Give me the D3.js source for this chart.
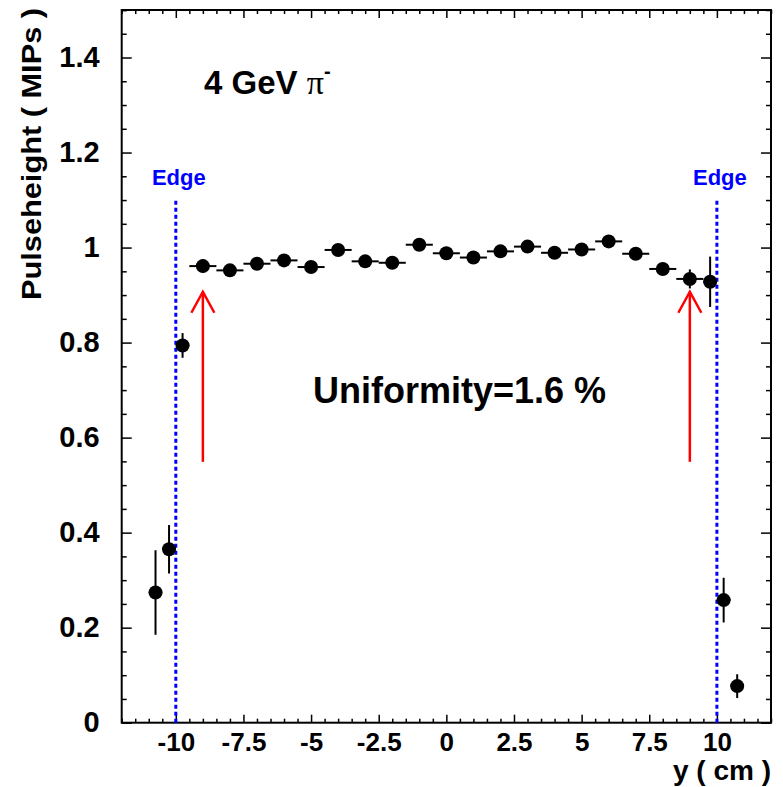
<!DOCTYPE html>
<html>
<head>
<meta charset="utf-8">
<script src="https://cdn.jsdelivr.net/npm/d3@7"></script>
<style>
  body { margin: 0; background: #fff; }
  text { font-family: "Liberation Sans", Arial, sans-serif; font-weight: bold; }
</style>
</head>
<body>
<svg id="chart" width="783" height="787"></svg>
<script>
// bin centres (cm) and measured pulseheight (MIPs)
const yPos = [-10.75, -10.25, -9.75, -9, -8, -7, -6, -5, -4, -3, -2, -1, 0,
  1, 2, 3, 4, 5, 6, 7, 8, 9, 9.75, 10.25, 10.75];
const pulse = [0.274, 0.365, 0.794, 0.961, 0.952, 0.966, 0.973, 0.959, 0.995, 0.971, 0.968, 1.006, 0.988,
  0.979, 0.992, 1.002, 0.989, 0.996, 1.013, 0.987, 0.955, 0.934, 0.928, 0.258, 0.077];
const pulseErr = [0.089, 0.051, 0.026, 0.014, 0.006, 0.006, 0.006, 0.006, 0.006, 0.006, 0.006, 0.006, 0.006,
  0.006, 0.006, 0.006, 0.006, 0.006, 0.006, 0.006, 0.008, 0.02, 0.053, 0.047, 0.025];
const binHalf = [0.25, 0.25, 0.25, 0.5, 0.5, 0.5, 0.5, 0.5, 0.5, 0.5, 0.5, 0.5, 0.5,
  0.5, 0.5, 0.5, 0.5, 0.5, 0.5, 0.5, 0.5, 0.5, 0.25, 0.25, 0.25];

const xTicks = [-10, -7.5, -5, -2.5, 0, 2.5, 5, 7.5, 10];
const xTickLabels = ["-10", "-7.5", "-5", "-2.5", "0", "2.5", "5", "7.5", "10"];
const yTicks = [0, 0.2, 0.4, 0.6, 0.8, 1, 1.2, 1.4];
const yTickLabels = ["0", "0.2", "0.4", "0.6", "0.8", "1", "1.2", "1.4"];

const edges = [-10, 10];
const edgeTop = 1.103;
const arrowsAt = [-9, 9];
const arrowFrom = 0.549;
const arrowTo = 0.907;

const data = yPos.map((d, i) => ({ x: d, y: pulse[i], ey: pulseErr[i], ex: binHalf[i] }));

const svg = d3.select("#chart");
const margin = { top: 10, right: 12, bottom: 64.3, left: 121.7 };
const width = 783, height = 787;

const x = d3.scaleLinear()
  .domain([-12, 12])
  .range([margin.left, width - margin.right]);

const y = d3.scaleLinear()
  .domain([0, 1.5])
  .range([height - margin.bottom, margin.top]);

const x0 = x.range()[0], x1 = x.range()[1];
const y0 = y.range()[0], y1 = y.range()[1];

const xMinor = d3.range(-12, 12.001, 0.5).filter(v => !xTicks.includes(v));
const yMinor = d3.range(0, 1.5001, 0.05).map(v => +v.toFixed(2)).filter(v => !yTicks.includes(v));

function axisStyle(g) {
  g.select(".domain").remove();
  g.selectAll(".tick line").attr("stroke", "#000").attr("stroke-width", 1.5);
}

// bottom axis
svg.append("g")
  .attr("transform", `translate(0,${y0})`)
  .call(d3.axisBottom(x).tickValues(xTicks).tickSize(-8).tickPadding(10)
    .tickFormat((d, i) => xTickLabels[i]))
  .call(axisStyle)
  .call(g => g.selectAll("text").attr("fill", "#000")
    .style("font-size", "26px").style("font-family", "Liberation Sans, Arial, sans-serif")
    .style("font-weight", "bold"));
svg.append("g")
  .attr("transform", `translate(0,${y0})`)
  .call(d3.axisBottom(x).tickValues(xMinor).tickSize(-4).tickFormat(""))
  .call(axisStyle);

// top axis (mirror ticks)
svg.append("g")
  .attr("transform", `translate(0,${y1})`)
  .call(d3.axisTop(x).tickValues(xTicks).tickSize(-8).tickFormat(""))
  .call(axisStyle);
svg.append("g")
  .attr("transform", `translate(0,${y1})`)
  .call(d3.axisTop(x).tickValues(xMinor).tickSize(-4).tickFormat(""))
  .call(axisStyle);

// left axis
svg.append("g")
  .attr("transform", `translate(${x0},0)`)
  .call(d3.axisLeft(y).tickValues(yTicks).tickSize(-10).tickPadding(22)
    .tickFormat((d, i) => yTickLabels[i]))
  .call(axisStyle)
  .call(g => g.selectAll("text").attr("fill", "#000")
    .style("font-size", "29px").style("font-family", "Liberation Sans, Arial, sans-serif")
    .style("font-weight", "bold"));
svg.append("g")
  .attr("transform", `translate(${x0},0)`)
  .call(d3.axisLeft(y).tickValues(yMinor.concat([1.5])).tickSize(-5).tickFormat(""))
  .call(axisStyle);

// right axis (mirror ticks)
svg.append("g")
  .attr("transform", `translate(${x1},0)`)
  .call(d3.axisRight(y).tickValues(yTicks).tickSize(-10).tickFormat(""))
  .call(axisStyle);
svg.append("g")
  .attr("transform", `translate(${x1},0)`)
  .call(d3.axisRight(y).tickValues(yMinor).tickSize(-5).tickFormat(""))
  .call(axisStyle);

// frame
svg.append("rect")
  .attr("x", x0).attr("y", y1)
  .attr("width", x1 - x0).attr("height", y0 - y1)
  .attr("fill", "none").attr("stroke", "#000").attr("stroke-width", 2);

// edge lines
svg.selectAll(".edge")
  .data(edges)
  .join("line")
  .attr("class", "edge")
  .attr("x1", d => x(d)).attr("x2", d => x(d))
  .attr("y1", y(0)).attr("y2", y(edgeTop))
  .attr("stroke", "#0000ff").attr("stroke-width", 3)
  .attr("stroke-dasharray", "4,3");

svg.selectAll(".edgeLabel")
  .data(edges)
  .join("text")
  .attr("class", "edgeLabel")
  .attr("x", d => x(d) + 3).attr("y", 185)
  .attr("text-anchor", "middle")
  .attr("fill", "#0000ff")
  .style("font-size", "22px")
  .text("Edge");

// red arrows marking the uniformity range
const arrows = svg.selectAll(".arrow")
  .data(arrowsAt)
  .join("g")
  .attr("class", "arrow")
  .attr("stroke", "#ff0000").attr("stroke-width", 2.5).attr("fill", "none");
arrows.append("line")
  .attr("x1", d => x(d)).attr("x2", d => x(d))
  .attr("y1", y(arrowFrom)).attr("y2", y(arrowTo));
arrows.append("path")
  .attr("d", d => `M${x(d) - 11.5},${y(arrowTo) + 21}L${x(d)},${y(arrowTo)}L${x(d) + 11.5},${y(arrowTo) + 21}`);

// error bars
svg.append("g")
  .selectAll("line")
  .data(data)
  .join("line")
  .attr("x1", d => x(d.x)).attr("x2", d => x(d.x))
  .attr("y1", d => y(d.y - d.ey)).attr("y2", d => y(d.y + d.ey))
  .attr("stroke", "#000").attr("stroke-width", 2);

svg.append("g")
  .selectAll("line")
  .data(data)
  .join("line")
  .attr("x1", d => x(d.x - d.ex)).attr("x2", d => x(d.x + d.ex))
  .attr("y1", d => y(d.y)).attr("y2", d => y(d.y))
  .attr("stroke", "#000").attr("stroke-width", 2);

svg.append("g")
  .selectAll("circle")
  .data(data)
  .join("circle")
  .attr("cx", d => x(d.x))
  .attr("cy", d => y(d.y))
  .attr("r", 7)
  .attr("fill", "#000");

// annotations
const beam = svg.append("text")
  .attr("x", 204).attr("y", 94)
  .style("font-size", "33px");
beam.append("tspan").text("4 GeV ");
beam.append("tspan")
  .style("font-family", "Liberation Serif, Times New Roman, serif")
  .style("font-weight", "normal")
  .style("font-size", "34px")
  .text("\u03c0");
beam.append("tspan")
  .attr("dy", -16)
  .style("font-size", "20px")
  .text("-");

svg.append("text")
  .attr("x", 313).attr("y", 403)
  .style("font-size", "36px")
  .text("Uniformity=1.6 %");

// axis titles
svg.append("text")
  .attr("x", x1).attr("y", 780)
  .attr("text-anchor", "end")
  .style("font-size", "28px")
  .text("y ( cm )");

svg.append("text")
  .attr("transform", "translate(41,8) rotate(-90)")
  .attr("text-anchor", "end")
  .attr("textLength", 292)
  .attr("lengthAdjust", "spacingAndGlyphs")
  .style("font-size", "28px")
  .text("Pulseheight ( MIPs )");
</script>
</body>
</html>
